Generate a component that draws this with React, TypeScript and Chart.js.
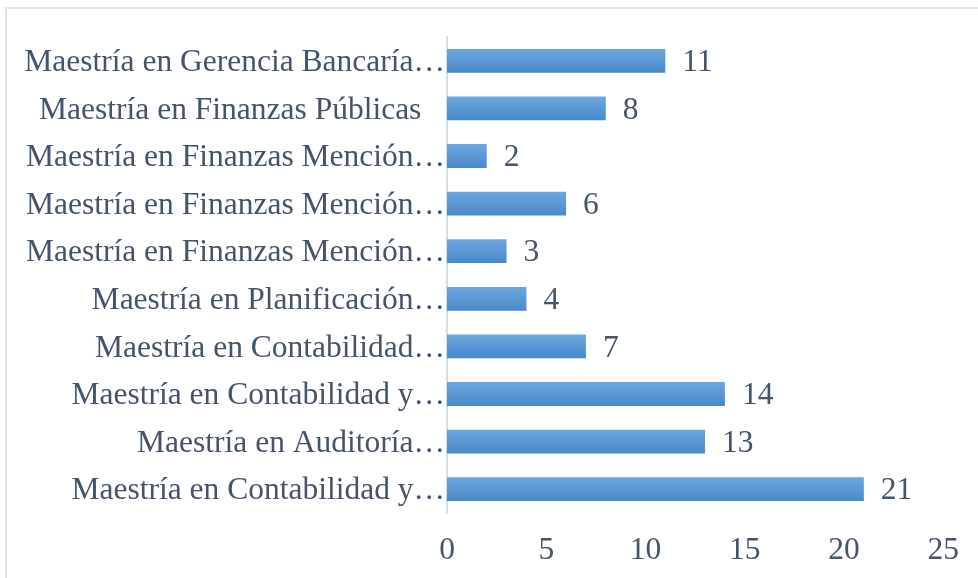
import React, { useEffect, useRef } from "react";
import { Chart, registerables } from "chart.js";

Chart.register(...registerables);

const categories: string[] = [
  "Maestría en Gerencia Bancaría…",
  "Maestría en Finanzas Públicas   ",
  "Maestría en Finanzas Mención…",
  "Maestría en Finanzas Mención…",
  "Maestría en Finanzas Mención…",
  "Maestría en Planificación…",
  "Maestría en Contabilidad…",
  "Maestría en Contabilidad y…",
  "Maestría en Auditoría…",
  "Maestría en Contabilidad y…",
];

const values: number[] = [11, 8, 2, 6, 3, 4, 7, 14, 13, 21];

const xTicks: number[] = [0, 5, 10, 15, 20, 25];

const FONT = "'Liberation Serif', 'Times New Roman', serif";
const TEXT = "#44546a";
const FSIZE = 31.5;

export default function App() {
  const ref = useRef<HTMLCanvasElement | null>(null);

  useEffect(() => {
    document.body.style.margin = "0";
    const canvas = ref.current;
    if (!canvas) return;

    const valueLabels = {
      id: "valueLabels",
      afterDatasetsDraw(chart: any) {
        const ctx = chart.ctx;
        const meta = chart.getDatasetMeta(0);
        ctx.save();
        ctx.font = `${FSIZE}px ${FONT}`;
        ctx.fillStyle = TEXT;
        ctx.textAlign = "left";
        ctx.textBaseline = "middle";
        meta.data.forEach((el: any, i: number) => {
          ctx.fillText(String(values[i]), el.x + 17, el.y + 2);
        });
        ctx.restore();
      },
    };

    const chart = new Chart(canvas, {
      type: "bar",
      data: {
        labels: categories,
        datasets: [
          {
            data: values,
            categoryPercentage: 1,
            barPercentage: 0.5,
            backgroundColor: (c: any) => {
              const ch = c.chart;
              const ys = ch.scales?.y;
              if (!ys || c.type !== "data" || !ys.height) return "#5b9bd5";
              const yc = ys.getPixelForValue(c.dataIndex);
              const h = (ys.height / categories.length) * 0.5;
              const g = ch.ctx.createLinearGradient(0, yc - h / 2, 0, yc + h / 2);
              g.addColorStop(0, "#6ca8df");
              g.addColorStop(1, "#4889cb");
              return g;
            },
            borderWidth: 0,
          },
        ],
      },
      options: {
        indexAxis: "y",
        responsive: false,
        animation: false,
        maintainAspectRatio: false,
        layout: { padding: { top: 37, right: 29, left: 0, bottom: 0 } },
        plugins: {
          legend: { display: false },
          tooltip: { enabled: false },
        },
        scales: {
          x: {
            min: 0,
            max: 25,
            afterBuildTicks: (s: any) => {
              s.ticks = xTicks.map((v) => ({ value: v }));
            },
            afterFit: (s: any) => {
              s.height = 65;
            },
            grid: { display: false, drawTicks: false },
            border: { display: false },
            ticks: {
              padding: 19,
              color: TEXT,
              font: { family: FONT, size: FSIZE },
              maxRotation: 0,
            },
          },
          y: {
            afterFit: (s: any) => {
              s.width = 447;
            },
            grid: { display: false, drawTicks: false },
            border: { display: true, color: "#d9dde3", width: 2 },
            ticks: {
              padding: 2,
              labelOffset: 2,
              color: TEXT,
              font: { family: FONT, size: FSIZE },
              autoSkip: false,
            },
          },
        },
      },
      plugins: [valueLabels],
    } as any);

    return () => chart.destroy();
  }, []);

  return (
    <div style={{ position: "relative", width: 978, height: 578, background: "#fff" }}>
      <div
        style={{
          position: "absolute",
          left: 5,
          top: 7,
          width: 973,
          height: 571,
          borderTop: "2px solid #dfe3e8",
          borderLeft: "2px solid #dfe3e8",
          boxSizing: "border-box",
        }}
      />
      <canvas ref={ref} width={978} height={578} style={{ position: "absolute", left: 0, top: 0 }} />
    </div>
  );
}
